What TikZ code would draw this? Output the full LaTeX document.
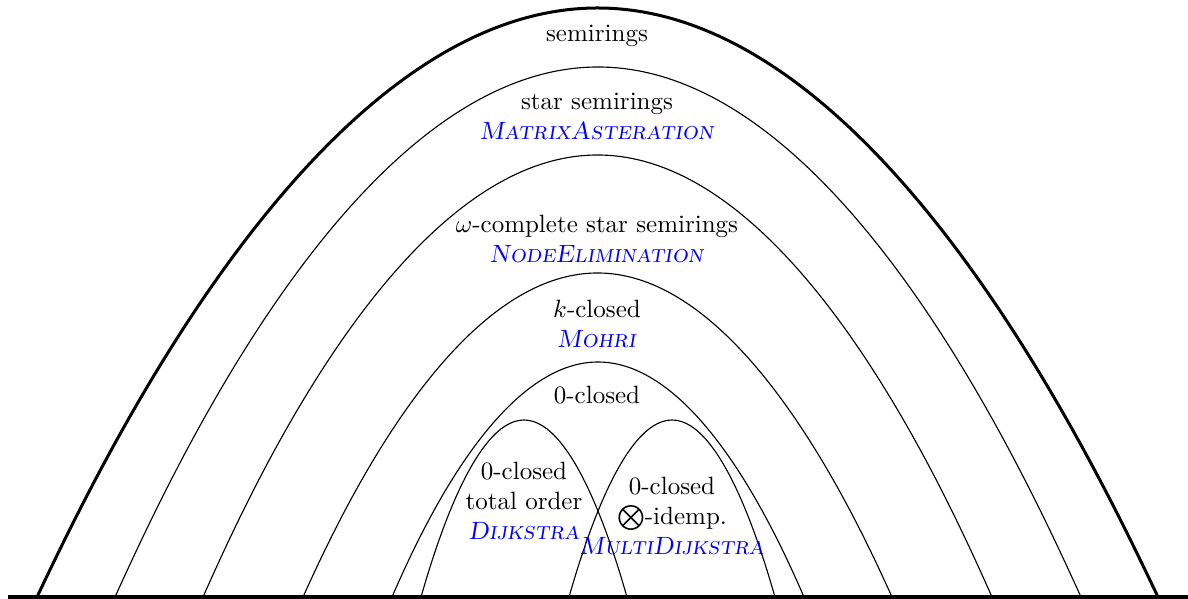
\documentclass[tikz,border=0pt]{standalone}
\usepackage{amsmath}
\usepackage{amssymb}
\usepackage{tikz}
\tikzset{arch/.style = {draw, line width = 0.45pt}}
\tikzset{outerarch/.style = {draw, line width = 1.2pt}}
\tikzset{ground/.style = {draw, line width = 1.3pt}}
\tikzset{lbl/.style = {align = center, inner sep = 0pt}}
\newcommand{\algname}[1]{\textcolor{blue}{\textsc{\textit{#1}}}}

\begin{document}
\begin{tikzpicture}[x = 0.4pt, y = 0.4pt]
	\useasboundingbox (0, -2) rectangle (1188, 597);

	\draw[outerarch] (37, 0) parabola bend (597.5, 589) (1158, 0);
	\draw[arch] (115, 0) parabola bend (598, 530) (1081, 0);
	\draw[arch] (203, 0) parabola bend (597.5, 442) (992, 0);
	\draw[arch] (303, 0) parabola bend (597.5, 324) (892, 0);
	\draw[arch] (392, 0) parabola bend (598, 235) (804, 0);
	\draw[arch] (421, 0) parabola bend (524, 177) (627, 0);
	\draw[arch] (569, 0) parabola bend (672, 177) (775, 0);

	\draw[ground] (8, 0) -- (1188, 0);

	\node[lbl] (semi) at (597, 561) {semirings};
	\node[lbl] (star) at (597, 481) {star semirings\\ \algname{MatrixAsteration}};
	\node[lbl] (omega) at (597, 358) {$\omega$-complete star semirings\\ \algname{NodeElimination}};
	\node[lbl] (kclosed) at (597, 273) {$k$-closed\\ \algname{Mohri}};
	\node[lbl] (zero) at (597, 202) {0-closed};
	\node[lbl] (dijk) at (524, 96) {0-closed\\ total order\\ \algname{Dijkstra}};
	\node[lbl] (multi) at (672, 81) {0-closed\\ $\bigotimes$-idemp.\\ \algname{MultiDijkstra}};
\end{tikzpicture}
\end{document}
